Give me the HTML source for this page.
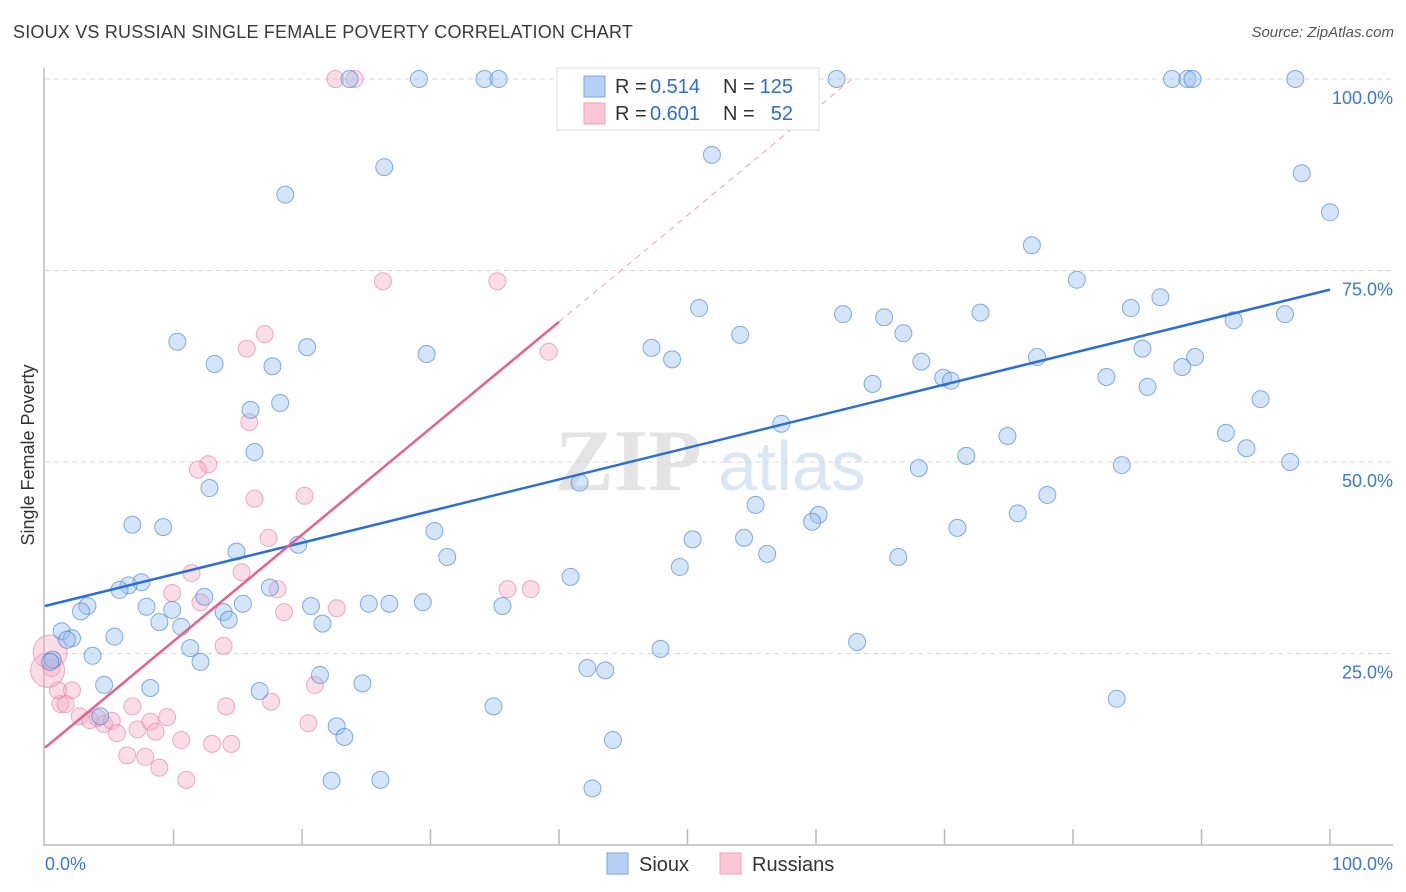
<!DOCTYPE html>
<html><head><meta charset="utf-8"><style>
body{margin:0;background:#fff;font-family:"Liberation Sans",sans-serif;}
#wrap{position:relative;width:1406px;height:892px;overflow:hidden;}
.t{position:absolute;white-space:nowrap;}
</style></head><body>
<div id="wrap">
<div class="t" style="left:13px;top:22px;font-size:18px;color:#3a3a3a;letter-spacing:0.2px">SIOUX VS RUSSIAN SINGLE FEMALE POVERTY CORRELATION CHART</div>
<div class="t" style="right:12px;top:24px;font-size:15px;color:#555;font-style:italic">Source: ZipAtlas.com</div>
<svg id="svg" width="1406" height="892" style="position:absolute;left:0;top:0"></svg>
</div>
<script>
const xTicks=[0,10,20,30,40,50,60,70,80,90,100];
const yTicks=[25,50,75,100];
const siouxX=[23.7,29.1,34.2,35.3,61.6,87.7,88.9,89.3,97.3,26.4,18.7,51.9,97.8,100,76.8,80.3,86.8,84.5,50.9,54.1,62.1,65.3,66.8,72.8,92.5,96.5,10.3,13.2,20.4,29.7,47.2,48.8,17.7,16.0,18.3,77.2,85.4,89.5,88.5,68.2,69.9,70.5,64.4,82.6,85.8,94.6,57.3,74.9,91.9,93.5,96.9,83.8,68.0,71.7,16.3,12.8,41.6,78.0,55.3,60.2,59.7,75.7,71.0,6.8,9.2,30.3,54.4,50.4,14.9,19.7,31.3,56.2,66.4,49.4,40.9,7.5,6.5,5.8,3.3,2.8,7.9,9.9,12.4,13.9,14.3,15.4,17.5,20.7,25.2,26.8,29.4,35.6,8.9,10.6,21.6,1.3,2.1,1.7,5.4,11.3,12.1,0.6,3.7,47.9,63.2,42.2,43.6,21.4,4.6,8.2,16.7,24.7,83.4,34.9,4.3,22.7,23.3,44.2,22.3,26.1,42.6,0.4];
const siouxY=[100,100,100,100,100,100,100,100,100,88.5,84.9,90.1,87.7,82.6,78.3,73.8,71.5,70.1,70.1,66.6,69.3,68.9,66.8,69.5,68.5,69.3,65.7,62.8,65.0,64.1,64.9,63.4,62.5,56.8,57.7,63.7,64.8,63.7,62.4,63.1,61.0,60.6,60.2,61.1,59.8,58.2,55.0,53.4,53.8,51.8,50.0,49.6,49.2,50.8,51.3,46.6,47.3,45.7,44.4,43.1,42.2,43.3,41.4,41.8,41.5,41.0,40.1,39.9,38.3,39.2,37.6,38.0,37.6,36.3,35.0,34.3,33.9,33.3,31.2,30.5,31.1,30.7,32.4,30.4,29.4,31.5,33.6,31.2,31.5,31.5,31.7,31.2,29.1,28.5,28.9,27.9,27.0,26.8,27.2,25.7,23.9,24.2,24.7,25.6,26.5,23.1,22.8,22.2,20.9,20.5,20.1,21.1,19.1,18.1,16.8,15.5,14.1,13.7,8.4,8.5,7.4,23.9];
const rusX=[22.6,24.1,26.3,35.2,39.2,17.1,15.7,15.9,12.7,11.9,16.3,20.2,17.4,11.4,15.3,18.1,9.9,12.1,18.6,22.7,36.0,37.8,13.9,21.0,17.6,0.4,0.5,2.1,1.2,1.6,2.7,3.5,4.1,4.6,5.2,5.6,6.8,7.2,8.2,8.6,9.5,6.4,7.8,8.9,10.6,11.0,13.0,14.5,14.1,20.5,1.0,0.2];
const rusY=[100,100,73.6,73.6,64.4,66.7,64.8,55.2,49.7,49.0,45.2,45.6,40.1,35.5,35.6,33.4,32.9,31.7,30.4,30.9,33.4,33.4,26.0,20.9,18.7,25.2,23.1,20.2,18.4,18.4,16.8,16.3,16.6,15.8,16.2,14.6,18.1,15.1,16.1,14.8,16.7,11.7,11.5,10.1,13.7,8.5,13.2,13.2,18.1,15.9,20.2,22.8];
const rusBig=[0,0,0,0,0,0,0,0,0,0,0,0,0,0,0,0,0,0,0,0,0,0,0,0,0,1,0,0,0,0,0,0,0,0,0,0,0,0,0,0,0,0,0,0,0,0,0,0,0,0,0,1];
const blueLine=[31.2,72.5];
const pinkLine=[12.7,1.39];
const X0=45,X1=1330,Y0=845,Y100=79;
const sx=v=>X0+(X1-X0)*v/100, sy=v=>Y0-(Y0-Y100)*v/100;
const svg=document.getElementById('svg');const NS='http://www.w3.org/2000/svg';
function mk(tag,attrs,name){const e=document.createElementNS(NS,tag);for(const k in attrs)e.setAttribute(k,attrs[k]);


svg.appendChild(e);return e;}
let w=mk('text',{x:555,y:490,'font-size':88,fill:'#e4e4e4','font-family':'Liberation Serif, serif','font-weight':'bold'},'watermark-zip');w.textContent='ZIP';
w=mk('text',{x:718,y:490,'font-size':70,fill:'#dbe6f4','font-family':'Liberation Sans, sans-serif'},'watermark-atlas');w.textContent='atlas';
yTicks.forEach(v=>{mk('line',{x1:45,x2:1393,y1:sy(v),y2:sy(v),stroke:'#d8d8d8','stroke-dasharray':'5,4'},'y-gridline');
const t=mk('text',{x:1393,y:sy(v)+25,'text-anchor':'end','font-size':18,fill:'#3a78d4'},'y-tick-label');t.textContent=v.toFixed(1)+'%';});
mk('line',{x1:44,x2:44,y1:68,y2:846,stroke:'#bbb','stroke-width':1.5},'y-axis-line');
mk('line',{x1:44,x2:1393,y1:845,y2:845,stroke:'#bbb','stroke-width':1.5},'x-axis-line');
xTicks.slice(1).forEach(v=>mk('line',{x1:sx(v),x2:sx(v),y1:829,y2:845,stroke:'#bbb','stroke-width':1.5},'x-tick'));
let t=mk('text',{x:45,y:870,'font-size':18,fill:'#3a78d4'},'x-min-label');t.textContent='0.0%';
t=mk('text',{x:1393,y:870,'font-size':18,fill:'#3a78d4','text-anchor':'end'},'x-max-label');t.textContent='100.0%';
t=mk('text',{x:34,y:455,'font-size':18,fill:'#333','text-anchor':'middle',transform:'rotate(-90 34 455)'},'y-axis-title');t.textContent='Single Female Poverty';
rusX.forEach((x,i)=>mk('circle',{cx:sx(x),cy:sy(rusY[i]),r:rusBig[i]?17:8.5,fill:'rgba(246,170,196,0.4)',stroke:'rgba(232,120,160,0.6)','stroke-width':1},'russians-point'));
siouxX.forEach((x,i)=>mk('circle',{cx:sx(x),cy:sy(siouxY[i]),r:8.5,fill:'rgba(150,190,240,0.4)',stroke:'rgba(60,120,210,0.6)','stroke-width':1},'sioux-point'));
mk('line',{x1:sx(0),y1:sy(blueLine[0]),x2:sx(100),y2:sy(blueLine[1]),stroke:'#2a6fd6','stroke-width':2.5},'sioux-trendline');
const pe=40;
mk('line',{x1:sx(0),y1:sy(pinkLine[0]),x2:sx(pe),y2:sy(pinkLine[0]+pinkLine[1]*pe),stroke:'#e8608a','stroke-width':2.5},'russians-trendline');
const pd=(100-pinkLine[0])/pinkLine[1];
mk('line',{x1:sx(pe),y1:sy(pinkLine[0]+pinkLine[1]*pe),x2:sx(pd),y2:sy(100),stroke:'#f0a0b8','stroke-width':1,'stroke-dasharray':'6,5'},'russians-trendline-extension');
mk('rect',{x:557,y:68,width:262,height:62,fill:'#fff',stroke:'#ddd'},'legend-box');
mk('rect',{x:584,y:76,width:21,height:21,fill:'#b5d0f4',stroke:'#7aa6e0'},'legend-swatch-sioux');
mk('rect',{x:584,y:103,width:21,height:21,fill:'#fbc6d6',stroke:'#f0a0b8'},'legend-swatch-russians');
function tx(x,y,s,c,name,anchor){const e=mk('text',{x:x,y:y,'font-size':20,fill:c,'text-anchor':anchor||'start'},name);e.textContent=s;}
tx(615,93,'R =','#333','legend-r-label');tx(650,93,'0.514','#2a6fd6','legend-r-sioux');
tx(723,93,'N =','#333','legend-n-label');tx(793,93,'125','#2a6fd6','legend-n-sioux','end');
tx(615,120,'R =','#333','legend-r-label');tx(650,120,'0.601','#2a6fd6','legend-r-russians');
tx(723,120,'N =','#333','legend-n-label');tx(793,120,'52','#2a6fd6','legend-n-russians','end');
mk('rect',{x:607,y:853,width:21,height:21,fill:'#b5d0f4',stroke:'#7aa6e0'},'bottom-legend-sioux-swatch');
tx(639,871,'Sioux','#333','bottom-legend-sioux-label');
mk('rect',{x:720,y:853,width:21,height:21,fill:'#fbc6d6',stroke:'#f0a0b8'},'bottom-legend-russians-swatch');
tx(752,871,'Russians','#333','bottom-legend-russians-label');
</script>
</body></html>
